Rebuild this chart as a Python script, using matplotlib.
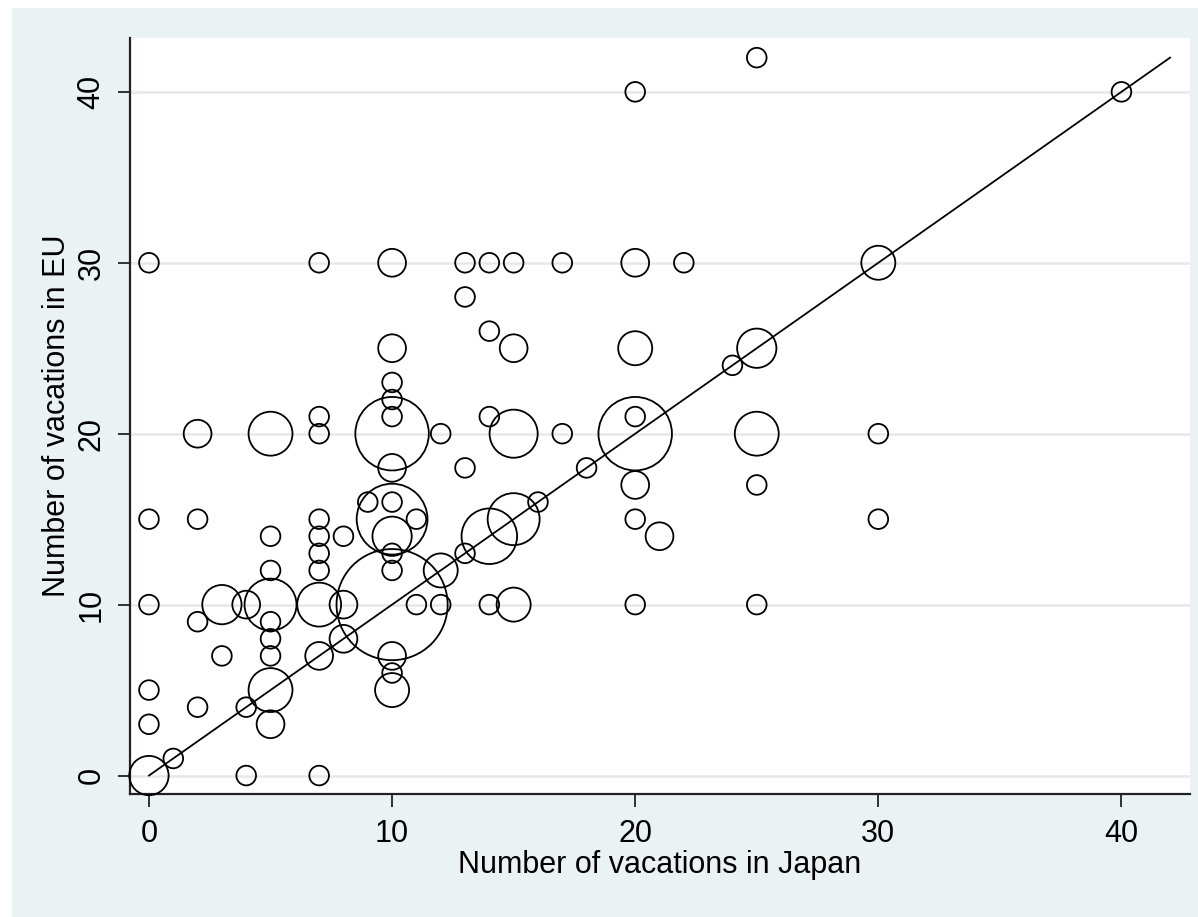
import matplotlib
matplotlib.use("Agg")
import matplotlib.pyplot as plt
from matplotlib.patches import Rectangle
import numpy as np

# vacations in Japan vs vacations in EU, marker area ~ number of respondents
japan = [0, 1, 0, 0, 0, 0, 0, 2, 2, 2, 2, 3, 3, 4, 4, 4, 7,
         5, 5, 5, 5, 5, 5, 5, 5, 5,
         7, 7, 7, 7, 7, 7, 7, 7, 7, 8, 8, 8, 9,
         10, 10, 10, 10, 10, 10, 10, 10, 10, 10, 10, 10, 10, 10, 10, 10,
         11, 11, 12, 12, 12, 13, 13, 13, 13,
         14, 14, 14, 14, 14, 15, 15, 15, 15, 15, 16, 17, 17, 18,
         20, 20, 20, 20, 20, 20, 20, 20, 21, 22, 24,
         25, 25, 25, 25, 25, 30, 30, 30, 40]
eu = [0, 1, 3, 5, 10, 15, 30, 4, 9, 15, 20, 7, 10, 10, 4, 0, 0,
      3, 5, 7, 8, 9, 10, 12, 14, 20,
      7, 10, 12, 13, 14, 15, 20, 21, 30, 8, 10, 14, 16,
      10, 5, 6, 7, 12, 13, 14, 15, 16, 18, 20, 21, 22, 23, 25, 30,
      10, 15, 10, 12, 20, 13, 18, 28, 30,
      10, 14, 21, 26, 30, 10, 15, 20, 25, 30, 16, 20, 30, 18,
      10, 15, 17, 20, 21, 25, 30, 40, 14, 30, 24,
      10, 17, 20, 25, 42, 15, 20, 30, 40]
count = [4, 1, 1, 1, 1, 1, 1, 1, 1, 1, 2, 1, 4, 2, 1, 1, 1,
         2, 5, 1, 1, 1, 7, 1, 1, 5,
         2, 5, 1, 1, 1, 1, 1, 1, 1, 2, 2, 1, 1,
         32, 3, 1, 2, 1, 1, 4, 13, 1, 2, 14, 1, 1, 1, 2, 2,
         1, 1, 1, 3, 1, 1, 1, 1, 1,
         1, 8, 1, 1, 1, 3, 7, 6, 2, 1, 1, 1, 1, 1,
         1, 1, 2, 14, 1, 3, 2, 1, 2, 1, 1,
         1, 1, 5, 4, 1, 1, 1, 3, 1]

fit_x = [0, 42]
fit_y = [0, 42]

bg = "#EAF2F3"
font = "Liberation Sans"

fig = plt.figure(figsize=(11.98, 9.17), dpi=100, facecolor="white")
fig.patches.append(Rectangle((12 / 1198, 0), 1 - 12 / 1198, 1 - 8 / 917,
                             transform=fig.transFigure, facecolor=bg,
                             edgecolor="none", zorder=-5))

ax = fig.add_axes([130 / 1198, 1 - 794 / 917, 1060 / 1198, 756 / 917])
ax.set_facecolor("white")

ax.scatter(japan, eu, s=np.array(count) * 200, facecolors="none",
           edgecolors="black", linewidths=1.3, zorder=3, clip_on=False)
ax.plot(fit_x, fit_y, color="black", linewidth=1.3, zorder=4)

ax.set_xlim(-0.78, 42.82)
ax.set_ylim(-1.08, 43.15)

ax.set_xticks([0, 10, 20, 30, 40])
ax.set_yticks([0, 10, 20, 30, 40])
ax.yaxis.grid(True, color="#E8E8E8", linewidth=1.8)
ax.set_axisbelow(True)

for side in ["top", "right"]:
    ax.spines[side].set_visible(False)
for side in ["left", "bottom"]:
    ax.spines[side].set_linewidth(1.6)
    ax.spines[side].set_color("#222222")

ax.tick_params(direction="out", length=9, width=1.3, colors="#222222",
               labelsize=22, labelcolor="black")
ax.tick_params(axis="x", pad=9)
ax.tick_params(axis="y", pad=8)
for lab in ax.get_yticklabels():
    lab.set_rotation(90)
    lab.set_va("center")
for lab in ax.get_yticklabels() + ax.get_xticklabels():
    lab.set_family(font)

ax.set_xlabel("Number of vacations in Japan", fontsize=22,
              family=font, labelpad=1)
ax.set_ylabel("Number of vacations in EU", fontsize=22,
              family=font, labelpad=3)

fig.savefig("out.png", dpi=100, facecolor=fig.get_facecolor())
